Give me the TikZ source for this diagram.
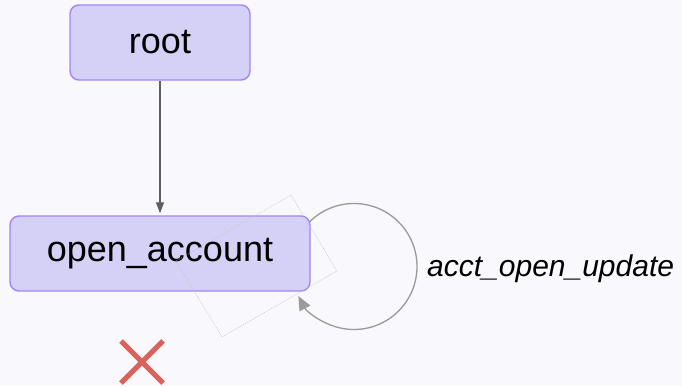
\documentclass[tikz,border=0pt]{standalone}
\usepackage{fontspec}
\setmainfont{Liberation Sans}
\usetikzlibrary{arrows.meta}
\definecolor{bg}{HTML}{F8F8FD}
\definecolor{boxfill}{HTML}{D4D0F6}
\definecolor{boxline}{HTML}{A585F2}
\definecolor{edgecol}{HTML}{5F5F5F}
\definecolor{loopcol}{HTML}{9A9A9A}
\definecolor{crosscol}{HTML}{D9625A}
\tikzset{
  statebox/.style={draw=boxline, fill=boxfill, line width=1.4pt, rounded corners=9pt,
    inner sep=0pt, font=\fontsize{36}{40}\selectfont, text=black},
  edge/.style={draw=edgecol, line width=1.3pt, -{Triangle[length=11pt,width=8pt]}},
  loopedge/.style={draw=loopcol, line width=1.3pt, -{Triangle[length=14pt,width=12pt]}},
}
\begin{document}
\begin{tikzpicture}[x=1pt,y=1pt]
\fill[bg] (0,0) rectangle (682,386);
\useasboundingbox (0,0) rectangle (682,386);
% self loop
\coordinate (c) at (354,119.5);
\draw[loopedge] ([shift={(136:63)}]c) arc[start angle=136, end angle=-152, radius=63];
% nodes
\node[statebox, minimum width=180pt, minimum height=75pt] (root) at (160,343.5) {root};
\node[statebox, minimum width=300pt, minimum height=75pt] (open) at (160,132.5) {open\_account};
\draw[edge] (root.south) -- ([yshift=2pt]open.north);
% faint rotated rectangle
\draw[gray!45, line width=0.5pt, dash pattern=on 1pt off 1pt] (291,191) -- (337,115) -- (222,49) -- (176,125) -- cycle;
\node[anchor=west, font=\fontsize{30}{34}\selectfont\itshape, inner sep=0pt] (lbl) at (427,117) {acct\_open\_update};
% cross
\coordinate (x1) at (121,45);
\coordinate (x2) at (163,3);
\coordinate (x3) at (121,3);
\coordinate (x4) at (163,45);
\draw[crosscol, line width=5pt] (x1) -- (x2) (x3) -- (x4);
\end{tikzpicture}
\end{document}
